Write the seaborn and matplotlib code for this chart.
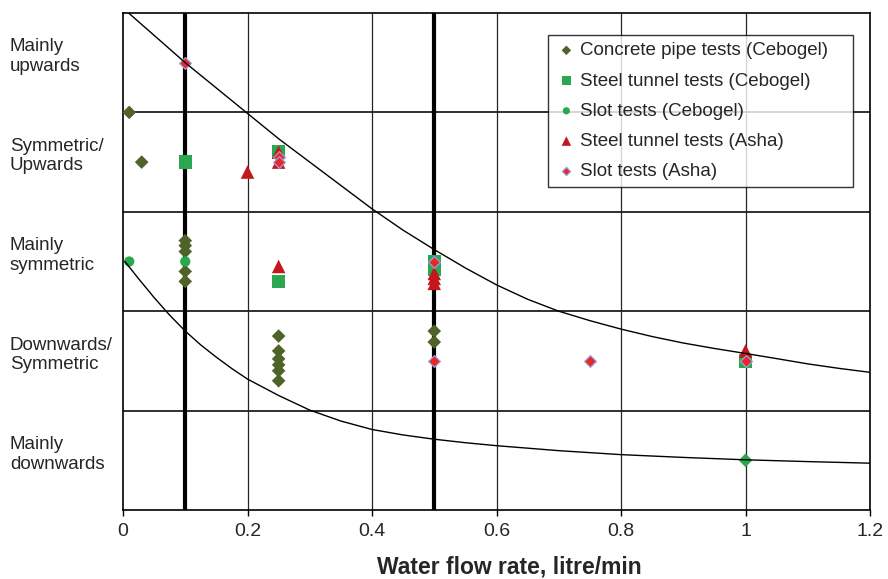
import matplotlib
matplotlib.use("Agg")
import matplotlib.pyplot as plt
import matplotlib.transforms as mtransforms
import seaborn as sns
import pandas as pd

# ---------------- data ----------------
band_labels = ["Mainly\ndownwards", "Downwards/\nSymmetric", "Mainly\nsymmetric",
               "Symmetric/\nUpwards", "Mainly\nupwards"]
band_centers = [0.5, 1.5, 2.5, 3.5, 4.5]
band_edges = [1, 2, 3, 4]

x_ticks = [0, 0.2, 0.4, 0.6, 0.8, 1.0, 1.2]
x_tick_labels = ["0", "0.2", "0.4", "0.6", "0.8", "1", "1.2"]
thick_x = [0.1, 0.5]

concrete_x = [0.01, 0.03, 0.1, 0.1, 0.1, 0.1, 0.1, 0.25, 0.25, 0.25, 0.25, 0.25, 0.25, 0.5, 0.5]
concrete_y = [4.0, 3.5, 2.71, 2.66, 2.6, 2.4, 2.3, 1.75, 1.6, 1.52, 1.46, 1.4, 1.3, 1.8, 1.69]

steel_ceb_x = [0.1, 0.25, 0.25, 0.5, 0.5, 1.0]
steel_ceb_y = [3.5, 3.6, 2.3, 2.5, 2.42, 1.5]

slot_ceb_x = [0.01, 0.1]
slot_ceb_y = [2.5, 2.5]

slot_ceb_extra_x = [1.0]
slot_ceb_extra_y = [0.5]

steel_asha_x = [0.2, 0.25, 0.25, 0.25, 0.5, 0.5, 0.5, 1.0]
steel_asha_y = [3.4, 3.6, 3.5, 2.45, 2.38, 2.33, 2.28, 1.6]

slot_asha_x = [0.1, 0.25, 0.25, 0.5, 0.5, 0.75, 1.0]
slot_asha_y = [4.5, 3.55, 3.5, 2.5, 1.5, 1.5, 1.5]

upper_x = [0.009, 0.05, 0.1, 0.15, 0.2, 0.25, 0.3, 0.35, 0.4, 0.45, 0.5, 0.55, 0.6,
           0.65, 0.7, 0.75, 0.8, 0.85, 0.9, 0.95, 1.0, 1.05, 1.1, 1.15, 1.2]
upper_y = [5.0, 4.775, 4.5, 4.245, 3.99, 3.735, 3.5, 3.265, 3.03, 2.815, 2.62, 2.435, 2.265,
           2.12, 2.0, 1.905, 1.82, 1.745, 1.68, 1.625, 1.575, 1.523, 1.47, 1.425, 1.385]

lower_x = [0.003, 0.025, 0.05, 0.075, 0.1, 0.125, 0.15, 0.175, 0.2, 0.25, 0.3, 0.35, 0.4,
           0.45, 0.5, 0.55, 0.6, 0.7, 0.8, 0.9, 1.0, 1.1, 1.2]
lower_y = [2.5, 2.327, 2.137, 1.96, 1.80, 1.66, 1.537, 1.422, 1.317, 1.152, 1.005, 0.895, 0.81,
           0.755, 0.712, 0.677, 0.647, 0.597, 0.557, 0.529, 0.505, 0.487, 0.471]

series_names = ["Concrete pipe tests (Cebogel)", "Steel tunnel tests (Cebogel)",
                "Slot tests (Cebogel)", "Steel tunnel tests (Asha)", "Slot tests (Asha)"]

# ---------------- style ----------------
sns.set_style("white")
plt.rcParams["font.family"] = ["Liberation Sans", "DejaVu Sans"]

OLIVE = "#4f6228"
GREEN = "#2ba84f"
DRED = "#c3161d"
RED = "#e8262b"
EDGE = "#9aa2d6"

fig = plt.figure(figsize=(8.88, 5.79), dpi=100)
ax = fig.add_axes([123 / 888, (579 - 510) / 579, (870 - 123) / 888, (510 - 13) / 579])

ax.set_xlim(0, 1.2)
ax.set_ylim(0, 5)

# grid
for xv in x_ticks[1:-1]:
    ax.axvline(xv, color="#262626", lw=0.9, zorder=1)
for yv in band_edges:
    ax.axhline(yv, color="#202020", lw=1.3, zorder=1)
for xv in thick_x:
    ax.axvline(xv, color="black", lw=3.0, zorder=1.5)

# series
specs = [
    (concrete_x, concrete_y, "D", OLIVE, 48, "none", 0),
    (steel_ceb_x, steel_ceb_y, "s", GREEN, 92, "none", 0),
    (slot_ceb_x, slot_ceb_y, "o", GREEN, 55, "none", 0),
    (steel_asha_x, steel_asha_y, "^", DRED, 95, "none", 0),
    (slot_asha_x, slot_asha_y, "D", RED, 36, EDGE, 0.9),
]
for (xs, ys, mk, col, s, ec, lw), name in zip(specs, series_names):
    df = pd.DataFrame({"x": xs, "y": ys})
    sns.scatterplot(data=df, x="x", y="y", marker=mk, color=col, s=s,
                    edgecolor=ec, linewidth=lw, label=name, ax=ax, zorder=3,
                    clip_on=False)

df_extra = pd.DataFrame({"x": slot_ceb_extra_x, "y": slot_ceb_extra_y})
sns.scatterplot(data=df_extra, x="x", y="y", marker="D", color=GREEN, s=48,
                edgecolor="none", linewidth=0, ax=ax, zorder=3, legend=False)

# trend curves
sns.lineplot(x=upper_x, y=upper_y, color="black", lw=1.0, ax=ax, zorder=4,
             sort=False, estimator=None)
sns.lineplot(x=lower_x, y=lower_y, color="black", lw=1.0, ax=ax, zorder=4,
             sort=False, estimator=None)

# axes
for sp in ax.spines.values():
    sp.set_color("black")
    sp.set_linewidth(1.2)
ax.set_xticks(x_ticks)
ax.set_xticklabels(x_tick_labels, fontsize=14)
ax.tick_params(axis="x", direction="out", length=4, width=1, color="black", pad=5.5, bottom=True)
ax.set_yticks([])
ax.set_ylabel("")
ax.set_xlabel("Water flow rate, litre/min", fontsize=16.5, fontweight="bold", va="baseline")
ax.xaxis.set_label_coords(0.517, -0.127)

# category labels
trans = mtransforms.blended_transform_factory(ax.transAxes, ax.transData)
for lab, yc in zip(band_labels, band_centers):
    ax.text(-0.1513, yc + 0.06, lab, transform=trans, ha="left", va="center",
            fontsize=13.5, linespacing=1.2)

# legend
x0 = (548 - 123) / 747
w = (853 - 548) / 747
y_top = (510 - 35) / 497
leg = ax.legend(loc="upper left", bbox_to_anchor=(x0, y_top - 0.5, w, 0.5), mode="expand",
                frameon=True, fancybox=False, shadow=False, fontsize=13.5, markerscale=0.7,
                handlelength=1.2, handletextpad=0.1, labelspacing=0.7,
                borderpad=0.38, borderaxespad=0)
leg.get_frame().set_edgecolor("black")
leg.get_frame().set_linewidth(1.0)
leg.set_zorder(5)

fig.savefig("out.png", dpi=100)
